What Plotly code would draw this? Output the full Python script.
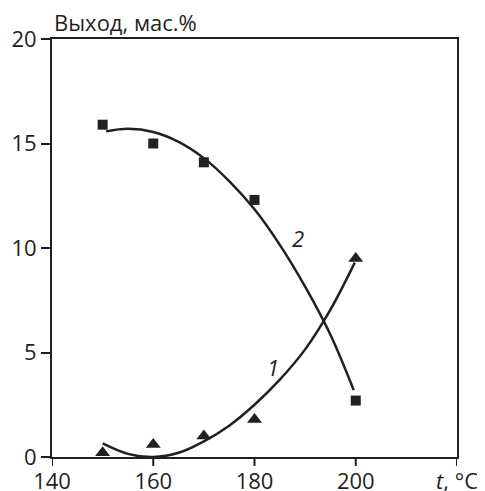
import plotly.graph_objects as go

# Measured points
temp_pts = [150, 160, 170, 180, 200]
yield2_pts = [15.9, 15.0, 14.1, 12.3, 2.7]   # squares, curve 2
yield1_pts = [0.2, 0.6, 1.0, 1.8, 9.5]       # triangles, curve 1

# Smoothed curves
curve2_t = [150.7, 155, 160, 165, 170, 175, 180, 185, 190, 195, 199.6]
curve2_y = [15.58, 15.7, 15.55, 15.08, 14.3, 13.2, 11.85, 10.15, 8.15, 5.85, 3.2]
curve1_t = [150, 155, 160, 165, 170, 175, 180, 185, 190, 195, 199.8]
curve1_y = [0.65, 0.15, 0.0, 0.2, 0.75, 1.5, 2.5, 3.7, 5.15, 7.05, 9.3]

x_ticks = [140, 160, 180, 200, 220]
x_ticktext = ["140", "160", "180", "200", "<i>t</i>, °C"]
y_ticks = [0, 5, 10, 15, 20]

FONT = "Open Sans"
ink = "#231f20"

fig = go.Figure()
fig.add_trace(go.Scatter(x=curve2_t, y=curve2_y, mode="lines",
                         line=dict(color=ink, width=2.5, shape="spline", smoothing=1),
                         showlegend=False, hoverinfo="skip"))
fig.add_trace(go.Scatter(x=curve1_t, y=curve1_y, mode="lines",
                         line=dict(color=ink, width=2.5, shape="spline", smoothing=1),
                         showlegend=False, hoverinfo="skip"))
fig.add_trace(go.Scatter(x=temp_pts, y=yield2_pts, mode="markers",
                         marker=dict(symbol="square", size=10, color=ink), showlegend=False, cliponaxis=False))
fig.add_trace(go.Scatter(x=temp_pts, y=yield1_pts, mode="markers",
                         marker=dict(symbol="triangle-up", size=13, color=ink), showlegend=False, cliponaxis=False))

# outward tick marks on the x axis, placed through the x scale
for tv in x_ticks:
    fig.add_shape(type="line", xref="x", yref="paper", x0=tv, x1=tv, y0=0, y1=-0.0215,
                  line=dict(color=ink, width=2))

fig.add_annotation(x=188.5, y=10.5, text="<i>2</i>", showarrow=False, font=dict(family=FONT, size=22, color=ink))
fig.add_annotation(x=183.6, y=4.3, text="<i>1</i>", showarrow=False, font=dict(family=FONT, size=22, color=ink))
fig.add_annotation(x=0, y=1, xref="paper", yref="paper", xanchor="left", yanchor="bottom", yshift=0,
                   text="Выход, мас.%", showarrow=False, font=dict(family=FONT, size=22, color=ink))

fig.update_layout(
    xaxis=dict(range=[140, 220], tickmode="array", tickvals=x_ticks, ticktext=x_ticktext,
               ticks="", ticklabelstandoff=4,
               showline=True, linewidth=2, linecolor=ink, mirror=True,
               showgrid=False, zeroline=False, automargin=False,
               tickfont=dict(family=FONT, size=22, color=ink)),
    yaxis=dict(range=[0, 20], tickvals=y_ticks, ticks="outside", ticklen=9, tickwidth=2, tickcolor=ink,
               showline=True, linewidth=2, linecolor=ink, mirror=True, showgrid=False, zeroline=False,
               automargin=False, tickfont=dict(family=FONT, size=22, color=ink)),
    width=485, height=491, margin=dict(l=44, r=36, t=31, b=42),
    plot_bgcolor="white", paper_bgcolor="white")
fig.write_html("out.html")
